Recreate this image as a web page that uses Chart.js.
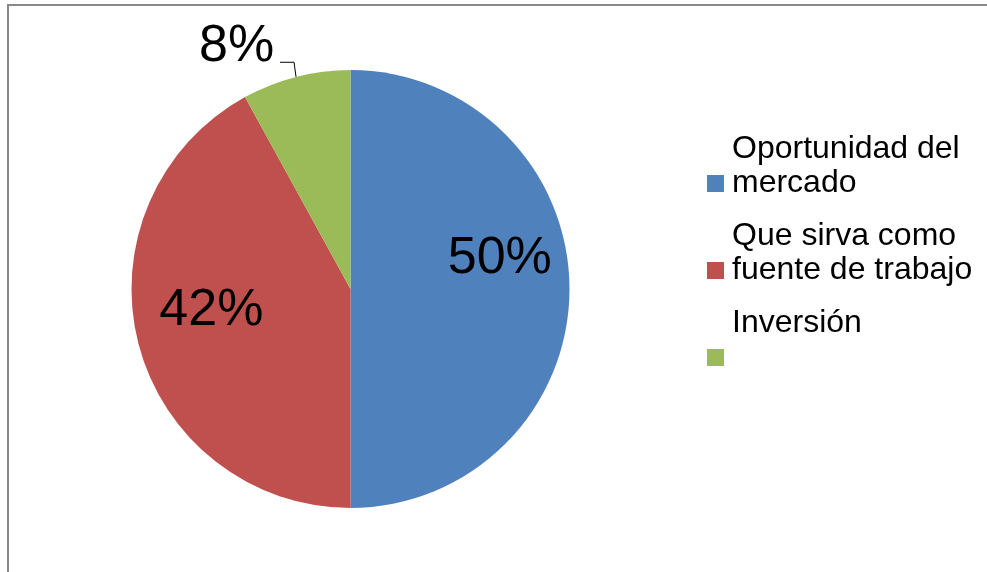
<!DOCTYPE html>
<html lang="es">
<head>
<meta charset="utf-8">
<title>Motivo de la inversión</title>
<script src="https://cdn.jsdelivr.net/npm/chart.js@4.4.1/dist/chart.umd.min.js"></script>
<style>
    html, body {
        margin: 0;
        padding: 0;
        background: #fff;
        overflow: hidden;
    }
    .page {
        position: relative;
        width: 987px;
        height: 572px;
        font-family: "Liberation Sans", Arial, sans-serif;
    }
    /* chart frame: only top and left edges are visible */
    .frame {
        position: absolute;
        left: 7px;
        top: 4px;
        width: 1000px;
        height: 600px;
        border-top: 2px solid #898989;
        border-left: 2px solid #898989;
    }
    .chart-box {
        position: absolute;
        left: 0;
        top: 0;
        width: 987px;
        height: 572px;
    }
    .legend {
        position: absolute;
        left: 707px;
        top: 130px;
        display: flex;
        flex-direction: column;
        gap: 19px;
    }
    .legend-item {
        display: flex;
        align-items: flex-end;
    }
    .legend-box {
        width: 17px;
        height: 17px;
        margin-right: 8px;
        margin-bottom: 6px;
        flex: none;
    }
    .legend-text {
        width: 250px;
        min-height: 68px;
        font-size: 32px;
        line-height: 34px;
        color: #000;
    }
</style>
</head>
<body>
<div class="page">
    <div class="frame"></div>
    <div class="chart-box"><canvas id="pieChart"></canvas></div>
    <div class="legend" id="customLegend"></div>
</div>
<script>
// Categories and shares
const LABELS = ['Oportunidad del mercado', 'Que sirva como fuente de trabajo', 'Inversión'];
const VALUES = [50, 42, 8];
const COLORS = ['#4F81BD', '#C0504D', '#9BBB59'];

// Percentage labels placed relative to each slice's mid angle
const sliceLabels = {
    id: 'sliceLabels',
    afterDatasetsDraw(chart, args, opts) {
        const meta = chart.getDatasetMeta(0);
        const ctx = chart.ctx;
        const total = VALUES.reduce((a, b) => a + b, 0);
        ctx.save();
        ctx.font = `${opts.size}px "Liberation Sans", Arial, sans-serif`;
        ctx.fillStyle = '#000';
        ctx.textAlign = 'center';
        ctx.textBaseline = 'alphabetic';
        meta.data.forEach((arc, i) => {
            const { x, y, startAngle, endAngle, outerRadius } =
                arc.getProps(['x', 'y', 'startAngle', 'endAngle', 'outerRadius'], true);
            const mid = (startAngle + endAngle) / 2;
            const p = opts.place[i];
            const a = mid + p.angle * Math.PI / 180;
            const r = outerRadius * p.radius;
            const lx = x + Math.cos(a) * r;
            const ly = y + Math.sin(a) * r;

            if (p.leader) {
                // elbow line from the label to the slice edge
                const ex = x + Math.cos(mid) * outerRadius;
                const ey = y + Math.sin(mid) * outerRadius;
                const kx = ex - 2, ky = ey - 14.6;
                ctx.beginPath();
                ctx.moveTo(kx - 14, ky);
                ctx.lineTo(kx, ky);
                ctx.lineTo(ex, ey);
                ctx.lineWidth = 1;
                ctx.strokeStyle = '#000';
                ctx.stroke();
            }

            const text = Math.round(VALUES[i] / total * 100) + '%';
            ctx.fillText(text, lx, ly + opts.size * 0.358);
        });
        ctx.restore();
    }
};

function renderChart() {
    const ctx = document.getElementById('pieChart').getContext('2d');
    new Chart(ctx, {
        type: 'pie',
        data: {
            labels: LABELS,
            datasets: [{
                data: VALUES,
                backgroundColor: COLORS,
                borderWidth: 0,
                offset: 0,
                hoverOffset: 0
            }]
        },
        options: {
            responsive: true,
            maintainAspectRatio: false,
            animation: false,
            layout: {
                padding: { left: 131.5, top: 70, right: 417.5, bottom: 64 }
            },
            plugins: {
                legend: { display: false },
                tooltip: { enabled: false },
                sliceLabels: {
                    size: 52,
                    place: [
                        { radius: 0.70, angle: -13.2 },
                        { radius: 0.64, angle: 7.45 },
                        { radius: 1.24, angle: -10.4, leader: true }
                    ]
                }
            }
        },
        plugins: [sliceLabels]
    });
}

function generateLegend() {
    const container = document.getElementById('customLegend');
    container.innerHTML = '';
    LABELS.forEach((label, idx) => {
        const item = document.createElement('div');
        item.className = 'legend-item';
        item.innerHTML = `
            <span class="legend-box" style="background: ${COLORS[idx]}"></span>
            <span class="legend-text">${label}</span>
        `;
        container.appendChild(item);
    });
}

generateLegend();
renderChart();
</script>
</body>
</html>
